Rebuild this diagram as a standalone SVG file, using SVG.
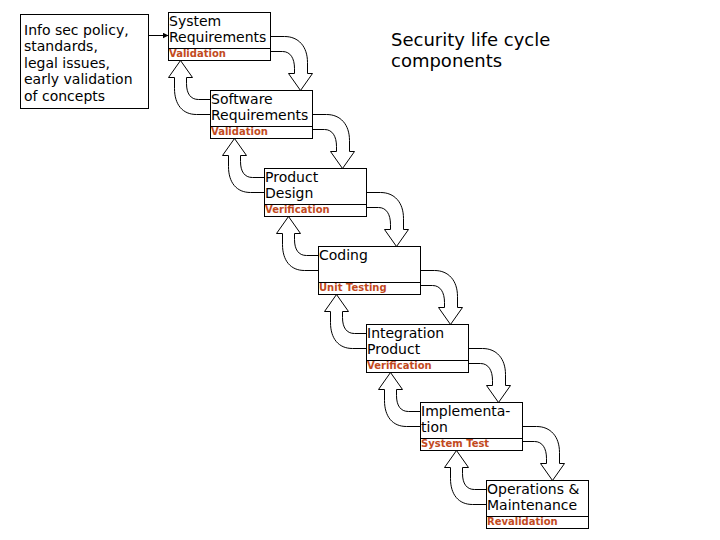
<svg xmlns="http://www.w3.org/2000/svg" xmlns:xlink="http://www.w3.org/1999/xlink" width="720" height="540" viewBox="0 0 720 540">
<style>
.box{fill:#fff;stroke:#000;stroke-width:1}
.sep{stroke:#000;stroke-width:1}
.lbl{font-family:"DejaVu Sans",Verdana,sans-serif;font-size:14px;fill:#000}
.sub{font-family:"DejaVu Sans",Verdana,sans-serif;font-size:10px;font-weight:bold;fill:#c24a1e}
.title{font-family:"DejaVu Sans",Verdana,sans-serif;font-size:18px;fill:#000}
.arr{fill:none;stroke:#000;stroke-width:1}
</style>
<defs>
<marker id="tip" markerWidth="6" markerHeight="6" refX="6" refY="3" orient="auto" markerUnits="userSpaceOnUse">
<path d="M0,0 L6,3 L0,6 Z" fill="#000"/>
</marker>
<path id="down" class="arr" d="M0,24 H14 C28,24 37,34 37,50 V61 M0,39 H12 C20,39 24,46 24,56 V61 M24,61 H18 L30,78 L42,61 H37"/>
<path id="up" class="arr" d="M0,9 H-12 C-20,9 -24,3 -24,-7 V-13 M0,24 H-14 C-28,24 -36,14 -36,-2 V-13 M-24,-13 H-18 L-30,-30 L-42,-13 H-36"/>
</defs>
<rect width="720" height="540" fill="#fff"/>
<g id="title">
<text class="title" x="391" y="46">Security life cycle</text>
<text class="title" x="391" y="67">components</text>
</g>
<g id="info">
<rect class="box" x="20.5" y="14.5" width="128" height="94"/>
<text class="lbl" x="24" y="34.5">Info sec policy,</text>
<text class="lbl" x="24" y="51">standards,</text>
<text class="lbl" x="24" y="67.5">legal issues,</text>
<text class="lbl" x="24" y="84">early validation</text>
<text class="lbl" x="24" y="100.5">of concepts</text>
</g>
<g id="connectors" transform="translate(0.5,0.5)">
<line class="arr" x1="148" y1="35" x2="168" y2="35" marker-end="url(#tip)"/>
<use xlink:href="#down" x="270" y="12"/>
<use xlink:href="#up" x="210" y="90"/>
<use xlink:href="#down" x="312" y="90"/>
<use xlink:href="#up" x="264" y="168"/>
<use xlink:href="#down" x="366" y="168"/>
<use xlink:href="#up" x="318" y="246"/>
<use xlink:href="#down" x="420" y="246"/>
<use xlink:href="#up" x="366" y="324"/>
<use xlink:href="#down" x="468" y="324"/>
<use xlink:href="#up" x="420" y="402"/>
<use xlink:href="#down" x="522" y="402"/>
<use xlink:href="#up" x="486" y="480"/>
</g>
<g id="sysreq">
<rect class="box" x="168.5" y="12.5" width="102" height="48"/>
<line class="sep" x1="168.5" y1="48.5" x2="270.5" y2="48.5"/>
<text class="lbl" x="169" y="26">System</text>
<text class="lbl" x="169" y="42">Requirements</text>
<text class="sub" x="169" y="57">Validation</text>
</g>
<g id="swreq">
<rect class="box" x="210.5" y="90.5" width="102" height="48"/>
<line class="sep" x1="210.5" y1="126.5" x2="312.5" y2="126.5"/>
<text class="lbl" x="211" y="104">Software</text>
<text class="lbl" x="211" y="120">Requirements</text>
<text class="sub" x="211" y="135">Validation</text>
</g>
<g id="design">
<rect class="box" x="264.5" y="168.5" width="102" height="48"/>
<line class="sep" x1="264.5" y1="204.5" x2="366.5" y2="204.5"/>
<text class="lbl" x="265" y="182">Product</text>
<text class="lbl" x="265" y="198">Design</text>
<text class="sub" x="265" y="213">Verification</text>
</g>
<g id="coding">
<rect class="box" x="318.5" y="246.5" width="102" height="48"/>
<line class="sep" x1="318.5" y1="282.5" x2="420.5" y2="282.5"/>
<text class="lbl" x="319" y="260">Coding</text>
<text class="sub" x="319" y="291">Unit Testing</text>
</g>
<g id="integration">
<rect class="box" x="366.5" y="324.5" width="102" height="48"/>
<line class="sep" x1="366.5" y1="360.5" x2="468.5" y2="360.5"/>
<text class="lbl" x="367" y="338">Integration</text>
<text class="lbl" x="367" y="354">Product</text>
<text class="sub" x="367" y="369">Verification</text>
</g>
<g id="implementation">
<rect class="box" x="420.5" y="402.5" width="102" height="48"/>
<line class="sep" x1="420.5" y1="438.5" x2="522.5" y2="438.5"/>
<text class="lbl" x="421" y="416">Implementa-</text>
<text class="lbl" x="421" y="432">tion</text>
<text class="sub" x="421" y="447">System Test</text>
</g>
<g id="operations">
<rect class="box" x="486.5" y="480.5" width="102" height="48"/>
<line class="sep" x1="486.5" y1="516.5" x2="588.5" y2="516.5"/>
<text class="lbl" x="487" y="494">Operations &amp;</text>
<text class="lbl" x="487" y="510">Maintenance</text>
<text class="sub" x="487" y="525">Revalidation</text>
</g>
</svg>
